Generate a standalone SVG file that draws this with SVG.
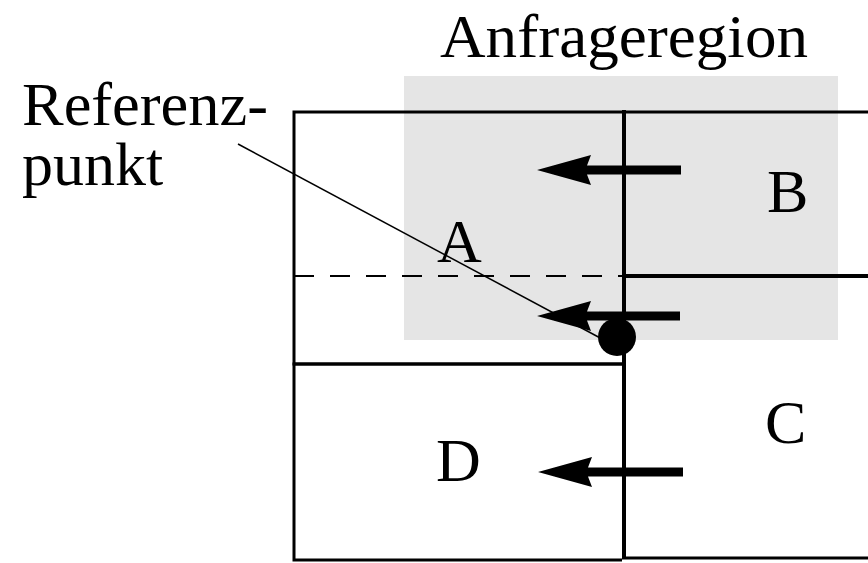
<svg xmlns="http://www.w3.org/2000/svg" width="868" height="563" viewBox="0 0 868 563">
<style>
.t{font-family:"Liberation Serif","Times New Roman",serif;font-size:62px;fill:#000}
.ln{stroke:#000;fill:none}
.ar{fill:#000}
</style>
<rect width="868" height="563" fill="#fff"/>
<g id="query-region">
<rect x="404" y="76" width="434" height="264" fill="#e5e5e5"/>
<text class="t" x="440" y="57" textLength="368" lengthAdjust="spacingAndGlyphs">Anfrageregion</text>
</g>
<g id="A">
<polyline class="ln" stroke-width="3" points="624,112 294,112 294,364 624,364"/>
<line class="ln" stroke-width="2" stroke-dasharray="20 16" x1="294" y1="276" x2="624" y2="276"/>
<text class="t" x="437" y="262">A</text>
</g>
<g id="B">
<line class="ln" stroke-width="3" x1="624" y1="112" x2="868" y2="112"/>
<line class="ln" stroke-width="4" x1="624" y1="276" x2="868" y2="276"/>
<text class="t" x="767" y="212">B</text>
</g>
<g id="C">
<line class="ln" stroke-width="4" x1="624" y1="110" x2="624" y2="559"/>
<line class="ln" stroke-width="3" x1="622" y1="558" x2="868" y2="558"/>
<text class="t" x="765" y="443">C</text>
</g>
<g id="D">
<polyline class="ln" stroke-width="3" points="622,364 294,364 294,560 622,560"/>
<text class="t" x="436" y="481">D</text>
</g>
<g id="referenzpunkt">
<text class="t" x="22" y="125" textLength="246" lengthAdjust="spacingAndGlyphs">Referenz-</text>
<text class="t" x="22" y="185">punkt</text>
<circle cx="617" cy="337" r="19" fill="#000"/>
</g>
<g id="connectors">
<line class="ln" stroke-width="1.5" x1="238" y1="144" x2="604" y2="340"/>
<path class="ar" d="M537,170 L591,155 L587,165.5 L681,165.5 L681,174.5 L587,174.5 L591,185 Z"/>
<path class="ar" d="M537,316 L591,301 L587,311.5 L680,311.5 L680,320.5 L587,320.5 L591,331 Z"/>
<path class="ar" d="M538,472 L592,457 L588,467.5 L683,467.5 L683,476.5 L588,476.5 L592,487 Z"/>
</g>
</svg>
